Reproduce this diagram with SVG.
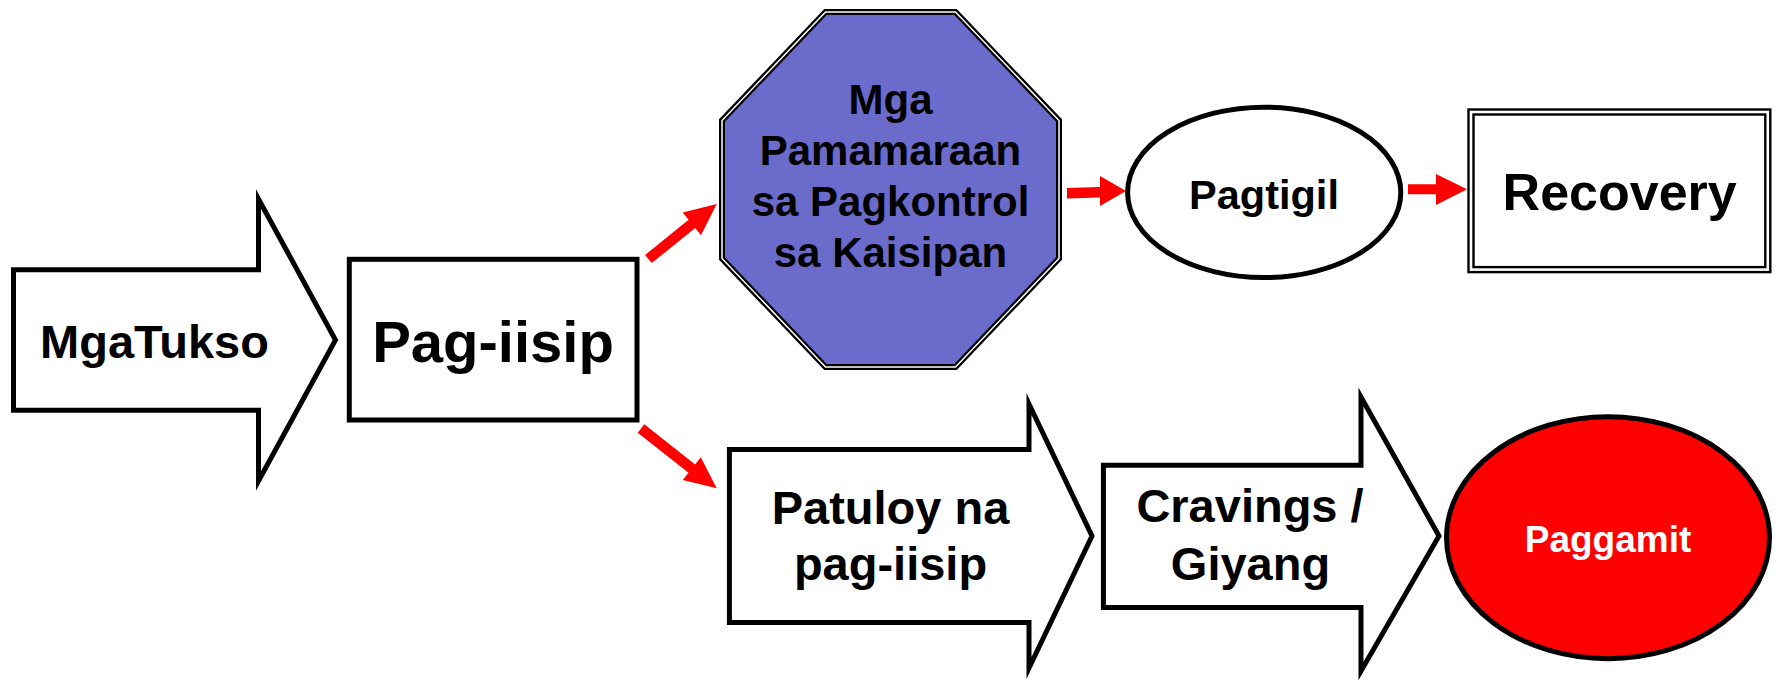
<svg xmlns="http://www.w3.org/2000/svg" width="1779" height="684" viewBox="0 0 1779 684">
<style>
.shape{fill:#fff;stroke:#000;stroke-width:5;stroke-miterlimit:10;stroke-linejoin:miter}
.t{font-family:"Liberation Sans",Arial,sans-serif;font-weight:bold;text-anchor:middle;fill:#000}
.conn{fill:#ff0000;stroke:none}
</style>
<rect width="1779" height="684" fill="#fff"/>
<g id="connectors">
<polygon class="conn" points="645.1,254.9 688.6,219.8 682.8,212.6 716.7,204 701.0,235.2 695.2,228.0 651.7,263.1"/>
<polygon class="conn" points="644.3,424.3 695.1,464.4 700.8,457.2 716.7,488.3 682.8,480.0 688.5,472.8 637.7,432.7"/>
<polygon class="conn" points="1067,188 1100,187 1100,176 1126,191 1100,206 1100,197.5 1067,198.5"/>
<polygon class="conn" points="1408,184.3 1436,184.3 1436,174 1467,189.3 1436,205 1436,194.3 1408,194.3"/>
</g>
<g id="node-mgatukso">
<path class="shape" d="M13.5,269.8 H258.5 V199 L335.5,340 L258.5,481 V410.2 H13.5 Z"/>
<text class="t" x="154.5" y="357.7" font-size="47">MgaTukso</text>
</g>
<g id="node-pagiisip">
<rect class="shape" x="349.3" y="259.3" width="287.7" height="160.7"/>
<text class="t" x="493" y="362" font-size="58">Pag-iisip</text>
</g>
<g id="node-pamamaraan">
<polygon points="825.5,12 955.5,12 1059,120.5 1059,258.5 955.5,367 825.5,367 722,258.5 722,120.5" fill="#6B6BCC" stroke="#000" stroke-width="6" stroke-linejoin="miter"/>
<polygon points="825.5,12 955.5,12 1059,120.5 1059,258.5 955.5,367 825.5,367 722,258.5 722,120.5" fill="none" stroke="#fff" stroke-width="1.5" stroke-linejoin="miter"/>
<text class="t" x="890.5" font-size="42"><tspan x="890.5" y="114">Mga</tspan><tspan x="890.5" y="165">Pamamaraan</tspan><tspan x="890.5" y="216">sa Pagkontrol</tspan><tspan x="890.5" y="267">sa Kaisipan</tspan></text>
</g>
<g id="node-pagtigil">
<ellipse class="shape" cx="1264.2" cy="192.4" rx="136.6" ry="85.2"/>
<text class="t" x="1264" y="208.5" font-size="41.5">Pagtigil</text>
</g>
<g id="node-recovery">
<rect x="1471" y="112" width="296.8" height="157.6" fill="#fff" stroke="#000" stroke-width="7.4"/>
<rect x="1471" y="112" width="296.8" height="157.6" fill="none" stroke="#fff" stroke-width="2.6"/>
<text class="t" x="1619.7" y="209.8" font-size="52">Recovery</text>
</g>
<g id="node-patuloy">
<path class="shape" d="M729.4,449.5 H1029 V404 L1092,536 L1029,668 V622.5 H729.4 Z"/>
<text class="t" font-size="47"><tspan x="890.5" y="523.5">Patuloy na</tspan><tspan x="890.5" y="580">pag-iisip</tspan></text>
</g>
<g id="node-cravings">
<path class="shape" d="M1103.4,465.3 H1361 V397 L1439,536 L1361,671 V607.4 H1103.4 Z"/>
<text class="t" font-size="47"><tspan x="1250" y="522">Cravings /</tspan><tspan x="1250.5" y="580">Giyang</tspan></text>
</g>
<g id="node-paggamit">
<ellipse cx="1608" cy="537.7" rx="161.5" ry="121" fill="#ff0000" stroke="#000" stroke-width="5"/>
<text class="t" x="1608" y="552" font-size="37" style="fill:#fff">Paggamit</text>
</g>
</svg>
